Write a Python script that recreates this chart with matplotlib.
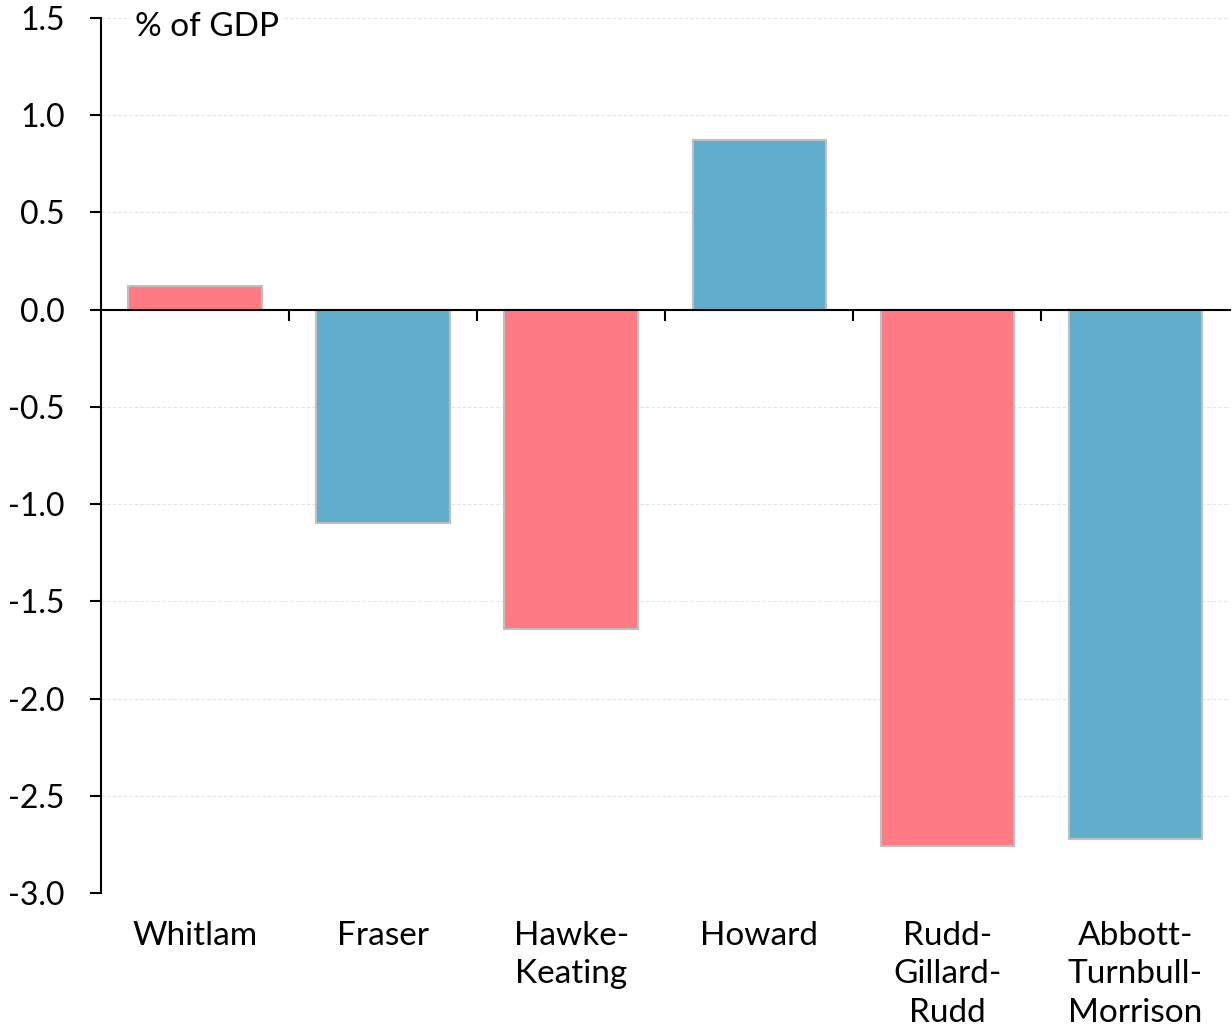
import matplotlib
matplotlib.use("Agg")
import matplotlib.pyplot as plt
import numpy as np

# Change in budget balance by government, % of GDP
governments = ["Whitlam", "Fraser", "Hawke-\nKeating", "Howard",
               "Rudd-\nGillard-\nRudd", "Abbott-\nTurnbull-\nMorrison"]
values = [0.12, -1.10, -1.64, 0.87, -2.76, -2.72]
parties = ["Labor", "Coalition", "Labor", "Coalition", "Labor", "Coalition"]
party_colors = {"Labor": "#FF7B83", "Coalition": "#60AECC"}
yticks = [-3.0, -2.5, -2.0, -1.5, -1.0, -0.5, 0.0, 0.5, 1.0, 1.5]

plt.rcParams["font.family"] = ["Lato", "DejaVu Sans"]

fig = plt.figure(figsize=(12.32, 10.32), dpi=100)
ax = fig.add_axes([0.082, 0.1347, 0.916, 0.848])

x = np.arange(len(governments))
ax.bar(x, values, width=0.71, color=[party_colors[p] for p in parties],
       edgecolor="#BFBFBF", linewidth=1.5, zorder=3)

ax.set_xlim(-0.5, len(governments) - 0.5)
ax.set_ylim(yticks[0], yticks[-1])
ax.set_yticks(yticks)
ax.set_yticklabels([f"{v:.1f}" for v in yticks])
ax.yaxis.grid(True, color="#E3E3E3", linestyle=(0, (3, 2)), linewidth=0.8, zorder=0)

for side in ("top", "right", "bottom"):
    ax.spines[side].set_visible(False)
ax.spines["left"].set_linewidth(1.5)
ax.tick_params(axis="y", length=8, width=1.5, labelsize=23, pad=18)

ax.set_xticks(x)
ax.set_xticklabels(governments, fontsize=24, linespacing=1.35)
ax.tick_params(axis="x", length=0, pad=20)

# zero line with category separators
zero_axis = ax.secondary_xaxis(0, transform=ax.transData)
zero_axis.set_xticks(np.arange(len(governments) - 1) + 0.5)
zero_axis.set_xticklabels([])
zero_axis.tick_params(length=8, width=1.5, direction="out")
zero_axis.spines["bottom"].set_linewidth(1.5)
zero_axis.set_zorder(4)

ax.text(0.03, 0.99, "% of GDP", transform=ax.transAxes, fontsize=24,
        ha="left", va="center",
        bbox=dict(facecolor="white", edgecolor="none", pad=3))

fig.savefig("out.png", dpi=100)
